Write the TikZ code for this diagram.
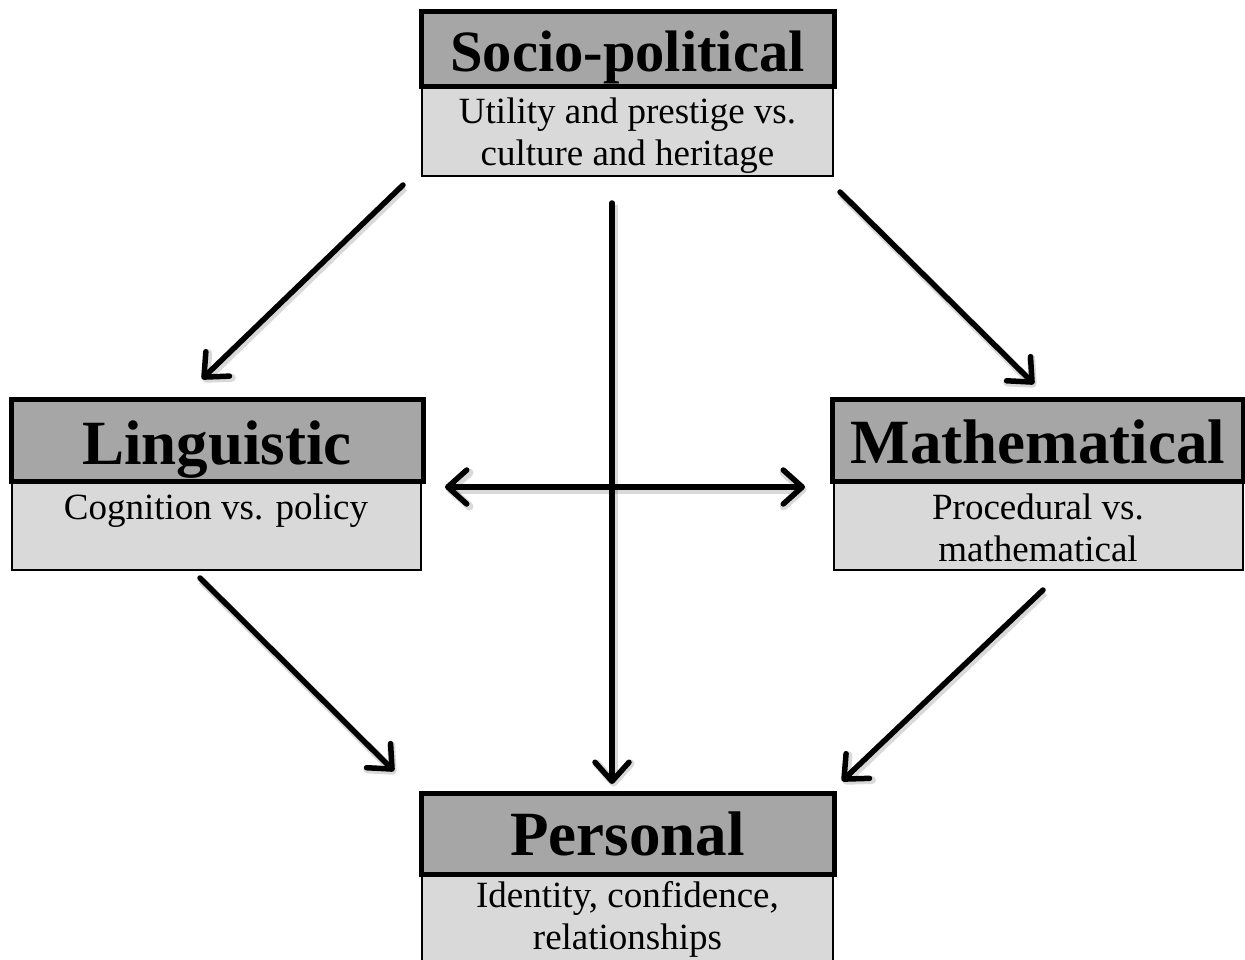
\documentclass[tikz,border=0pt]{standalone}
\usepackage{fontspec}
\setmainfont{Liberation Serif}
\usetikzlibrary{arrows.meta}
\definecolor{hdrgray}{HTML}{A6A6A6}
\definecolor{subgray}{HTML}{D9D9D9}
\begin{document}
\begin{tikzpicture}[x=1pt,y=-1pt,
  hdr/.style={draw=black, line width=5pt, fill=hdrgray, inner sep=0pt, outer sep=0pt, anchor=north west},
  subbox/.style={draw=black, line width=1.8pt, fill=subgray, inner sep=0pt, outer sep=0pt, anchor=north west},
  ttl/.style={anchor=base, inner sep=0pt, font=\fontsize{63}{66}\selectfont\bfseries},
  subt/.style={anchor=base, inner sep=0pt, align=center, font=\fontsize{37}{42}\selectfont},
  tip/.tip={Straight Barb[length=19pt,width=34pt,round]},
  shade/.style={preaction={draw=black, draw opacity=0.15, line width=8pt, transform canvas={shift={(1.5pt,-2.5pt)}}}},
  conn/.style={line width=5.5pt, line cap=round, -tip, shade},
  dconn/.style={line width=5.5pt, line cap=round, tip-tip, shade}
]
\useasboundingbox (0,0) rectangle (1245,960);

% Socio-political
\node[subbox, minimum width=411pt, minimum height=88pt] (socbox) at (422,88) {};
\node[hdr, minimum width=413pt, minimum height=75pt] (sochead) at (421,12) {};
\node[ttl, font=\fontsize{58.5}{62}\selectfont\bfseries] (soct) at (627.5,72) {Socio-political};
\node[subt] (socs) at (627.5,166) {Utility and prestige vs.\\culture and heritage};

% Linguistic
\node[subbox, minimum width=409pt, minimum height=88pt] (linbox) at (12,482) {};
\node[hdr, minimum width=412pt, minimum height=82pt] (linhead) at (11,399) {};
\node[ttl] (lint) at (217,464) {Linguistic};
\node[subt] (lins) at (216,519) {Cognition vs. policy};

% Mathematical
\node[subbox, minimum width=409pt, minimum height=88pt] (matbox) at (834,482) {};
\node[hdr, minimum width=411pt, minimum height=82pt] (mathead) at (832,399) {};
\node[ttl] (matt) at (1038,463) {Mathematical};
\node[subt] (mats) at (1038,561) {Procedural vs.\\mathematical};

% Personal
\node[subbox, minimum width=411pt, minimum height=95pt] (perbox) at (422,875) {};
\node[hdr, minimum width=413pt, minimum height=81pt] (perhead) at (421,793) {};
\node[ttl] (pert) at (627.5,855) {Personal};
\node[subt] (pers) at (627.5,949) {Identity, confidence,\\relationships};

% connector ends
\coordinate (a1s) at (403,185);  \coordinate (a1e) at (202,379);
\coordinate (a2s) at (840,192);  \coordinate (a2e) at (1034,384);
\coordinate (a3s) at (612,203);  \coordinate (a3e) at (612,784);
\coordinate (a4s) at (445,487);  \coordinate (a4e) at (805,487);
\coordinate (a5s) at (200,578);  \coordinate (a5e) at (394,771);
\coordinate (a6s) at (1043,590); \coordinate (a6e) at (842,781);

\draw[conn] (a1s) -- (a1e);
\draw[conn] (a2s) -- (a2e);
\draw[conn] (a3s) -- (a3e);
\draw[dconn] (a4s) -- (a4e);
\draw[conn] (a5s) -- (a5e);
\draw[conn] (a6s) -- (a6e);
\end{tikzpicture}
\end{document}
